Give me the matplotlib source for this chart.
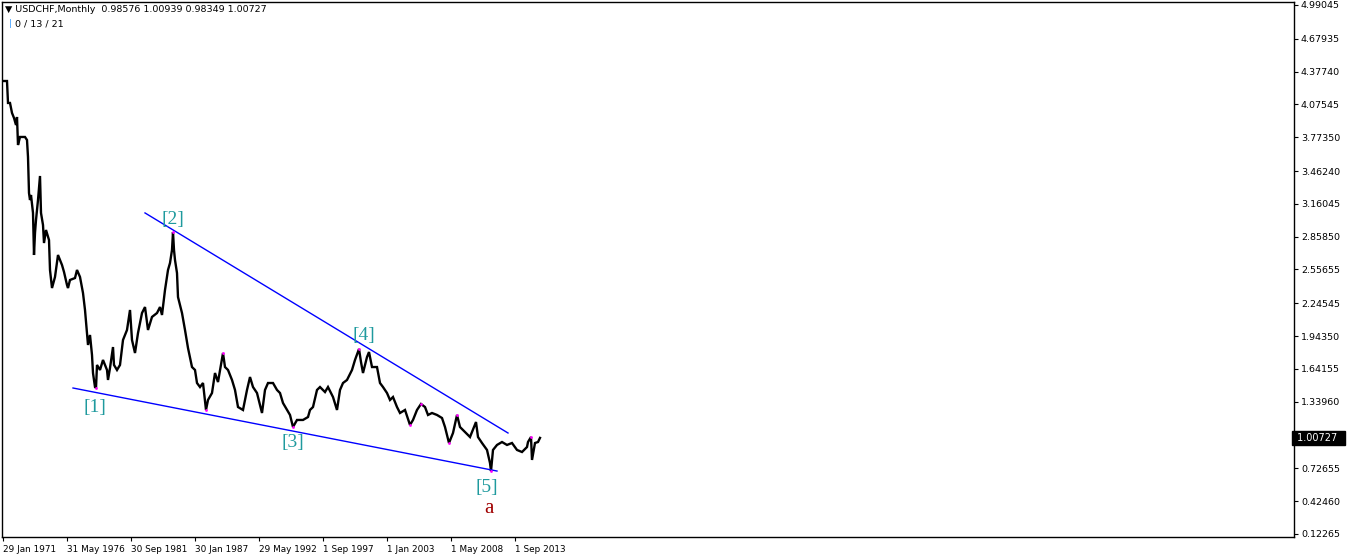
import numpy as np
import matplotlib.pyplot as plt

# month index counted from Jan 1971, monthly close
month = [0, 4, 5, 7, 9, 11, 13, 14, 15, 17, 22, 24, 25, 26, 27, 28, 30, 31, 32, 33,
         35, 37, 38, 40, 41, 43, 46, 47, 49, 52, 55, 57, 59, 61, 64, 65, 67, 72, 74, 77,
         80, 82, 84, 85, 87, 89, 90, 92, 93, 94, 97, 100, 104, 105, 107, 110, 111, 114, 117, 120,
         124, 127, 129, 132, 135, 139, 142, 145, 149, 154, 157, 159, 162, 165, 167, 169, 170, 171, 172, 174,
         175, 179, 182, 185, 189, 192, 194, 197, 200, 203, 205, 209, 212, 215, 220, 222, 225, 229, 232, 235,
         240, 244, 247, 250, 254, 259, 262, 265, 270, 274, 277, 280, 284, 287, 290, 294, 300, 305, 307, 310,
         314, 317, 322, 325, 330, 334, 337, 340, 344, 349, 352, 356, 358, 360, 364, 366, 369, 374, 377, 380,
         384, 387, 390, 394, 397, 402, 407, 410, 414, 418, 422, 425, 429, 434, 439, 442, 446, 450, 454, 457,
         462, 467, 473, 475, 479, 484, 487, 488, 490, 494, 499, 504, 509, 514, 519, 524, 525, 528, 529, 532,
         535, 537]
close = [4.291, 4.291, 4.089, 4.089, 3.997, 3.951, 3.886, 3.960, 3.702, 3.776, 3.776, 3.748, 3.592, 3.260, 3.196, 3.242, 3.077, 2.690, 2.893, 3.012,
         3.196, 3.417, 3.077, 2.966, 2.800, 2.920, 2.828, 2.552, 2.386, 2.488, 2.690, 2.644, 2.598, 2.534, 2.414, 2.386, 2.460, 2.478, 2.552, 2.488,
         2.340, 2.184, 1.972, 1.862, 1.954, 1.770, 1.604, 1.475, 1.466, 1.678, 1.632, 1.724, 1.632, 1.540, 1.650, 1.843, 1.678, 1.632, 1.678, 1.908,
         2.000, 2.184, 1.908, 1.788, 1.972, 2.156, 2.211, 2.000, 2.120, 2.156, 2.211, 2.138, 2.368, 2.552, 2.616, 2.736, 2.901, 2.736, 2.644, 2.524,
         2.303, 2.156, 2.000, 1.834, 1.659, 1.632, 1.512, 1.475, 1.512, 1.264, 1.356, 1.420, 1.604, 1.521, 1.788, 1.659, 1.632, 1.540, 1.448, 1.291,
         1.264, 1.448, 1.567, 1.475, 1.420, 1.236, 1.448, 1.512, 1.512, 1.448, 1.420, 1.328, 1.264, 1.218, 1.107, 1.172, 1.172, 1.199, 1.264, 1.291,
         1.448, 1.475, 1.429, 1.475, 1.383, 1.264, 1.448, 1.512, 1.540, 1.632, 1.724, 1.825, 1.705, 1.604, 1.751, 1.797, 1.659, 1.659, 1.512, 1.475,
         1.420, 1.356, 1.383, 1.291, 1.236, 1.264, 1.126, 1.172, 1.264, 1.319, 1.291, 1.218, 1.236, 1.218, 1.190, 1.107, 0.960, 1.052, 1.218, 1.107,
         1.061, 1.015, 1.153, 1.015, 0.960, 0.896, 0.776, 0.702, 0.896, 0.942, 0.969, 0.942, 0.960, 0.896, 0.877, 0.923, 0.969, 1.015, 0.804, 0.960,
         0.969, 1.007]

pivots = [93, 170, 203, 220, 290, 356, 407, 418, 446, 454, 488, 528]

wave_labels = ["[1]", "[2]", "[3]", "[4]", "[5]"]
wave_pos = [(92, 1.29), (170, 3.02), (290, 0.96), (361, 1.945), (484, 0.55)]

upper_line = ([142, 505], [3.077, 1.052])
lower_line = ([70, 494], [1.466, 0.702])

price_ticks = [4.99045, 4.67935, 4.37740, 4.07545, 3.77350, 3.46240, 3.16045, 2.85850,
               2.55655, 2.24545, 1.94350, 1.64155, 1.33960, 0.72655, 0.42460, 0.12265]
date_ticks = [0, 64, 128, 192, 256, 320, 384, 448, 512]
date_labels = ["29 Jan 1971", "31 May 1976", "30 Sep 1981", "30 Jan 1987", "29 May 1992",
               "1 Sep 1997", "1 Jan 2003", "1 May 2008", "1 Sep 2013"]
last_price = 1.00727

W, H = 1358, 556
fig = plt.figure(figsize=(W / 100, H / 100), dpi=100)
ax = fig.add_axes([2 / W, 1 - 537 / H, 1292 / W, 535 / H])

ax.plot(month, close, color="black", lw=1.7, solid_joinstyle="miter")
piv_y = [close[month.index(m)] for m in pivots]
ax.scatter(pivots, piv_y, s=4, color="#ff00ff", zorder=3, linewidths=0)

ax.plot(*upper_line, color="#0000ff", lw=1)
ax.plot(*lower_line, color="#0000ff", lw=1)

for lab, (x, y) in zip(wave_labels, wave_pos):
    ax.text(x, y, lab, color="#1f9a9e", fontsize=14, family="Liberation Serif",
            ha="center", va="center")
ax.text(486, 0.36, "a", color="#a00000", fontsize=15, family="Liberation Serif",
        ha="center", va="center")

ax.set_xlim(-1, 1291)
ax.set_ylim(0.0950, 5.0180)

ax.yaxis.tick_right()
ax.set_yticks(price_ticks)
ax.set_yticklabels(["%.5f" % v for v in price_ticks])
ax.set_xticks(date_ticks)
ax.set_xticklabels(date_labels, ha="left")
ax.tick_params(axis="both", length=3, width=0.8, pad=2, direction="out")
ax.tick_params(axis="y", labelsize=6.8)
ax.tick_params(axis="x", labelsize=6.4, pad=3)

ax.text(1.0, last_price, " %.5f  " % last_price, transform=ax.get_yaxis_transform(),
        color="white", fontsize=7, va="center", ha="left",
        bbox=dict(boxstyle="square,pad=0.2", fc="black", ec="black"))

for s in ax.spines.values():
    s.set_color("black")
    s.set_linewidth(1)

fig.text(5 / W, 1 - 10 / H, "\u25bc USDCHF,Monthly  0.98576 1.00939 0.98349 1.00727",
         fontsize=6.8, va="center", ha="left")
fig.text(9 / W, 1 - 24 / H, "|", fontsize=6.8, va="center", ha="left", color="#3399ff")
fig.text(15 / W, 1 - 24 / H, "0 / 13 / 21", fontsize=6.8, va="center", ha="left")

fig.savefig("out.png", dpi=100)
